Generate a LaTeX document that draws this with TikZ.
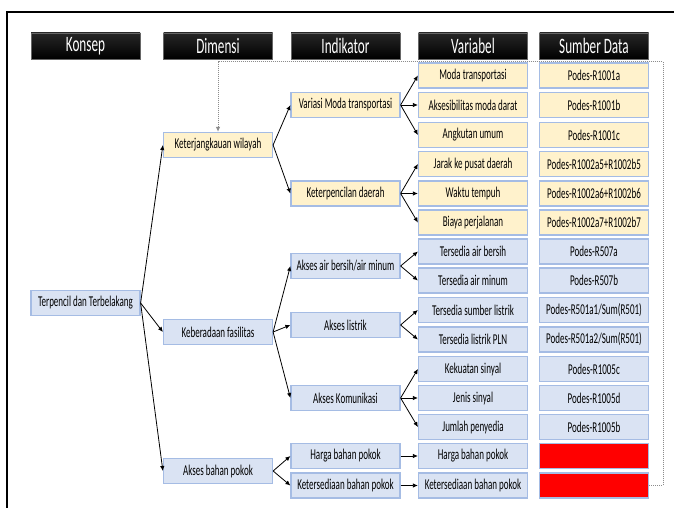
\documentclass[tikz,border=0pt]{standalone}
\usepackage{fontspec}
\setmainfont{Carlito}[FakeStretch=0.6]
\usetikzlibrary{arrows.meta}
\definecolor{ylw}{RGB}{255,242,204}
\definecolor{blu}{RGB}{218,227,243}
\definecolor{edg}{RGB}{165,188,228}
\tikzset{
  hdr/.style={top color=black!85, bottom color=black, draw=black!60, line width=0.8pt, minimum width=109, minimum height=26, inner sep=0pt, text=white, font=\fontsize{22}{23}\selectfont},
  cell/.style={draw=edg, line width=1.2pt, minimum width=109, minimum height=25, inner sep=0pt, font=\fontsize{15}{16}\selectfont},
  ybox/.style={cell, fill=ylw},
  bbox/.style={cell, fill=blu},
  rbox/.style={cell, fill=red},
  arr/.style={-{Latex[length=5pt,width=4.5pt]}, line width=0.8pt, black},
  dotline/.style={densely dotted, black!45, line width=1pt}
}
\begin{document}
\begin{tikzpicture}[x=1pt,y=-1pt]
\useasboundingbox (0,0) rectangle (674,508);
\draw[line width=2pt] (6.5,508) -- (6.5,12.5) -- (674,12.5);
% headers
\node[hdr] (h1) at (85.5,46) {Konsep};
\node[hdr] (h2) at (218,46) {Dimensi};
\node[hdr] (h3) at (345.5,46) {Indikator};
\node[hdr] (h4) at (473,46) {Variabel};
\node[hdr] (h5) at (594,46) {Sumber Data};
% konsep
\node[bbox] (k) at (85.5,303) {Terpencil dan Terbelakang};
% dimensi
\node[ybox] (d1) at (218,145) {Keterjangkauan wilayah};
\node[bbox] (d2) at (218,332) {Keberadaan fasilitas};
\node[bbox] (d3) at (218,471) {Akses bahan pokok};
% indikator
\node[ybox] (i1) at (345.5,105) {Variasi Moda transportasi};
\node[ybox] (i2) at (345.5,193.5) {Keterpencilan daerah};
\node[bbox] (i3) at (345.5,266) {Akses air bersih/air minum};
\node[bbox] (i4) at (345.5,325) {Akses listrik};
\node[bbox] (i5) at (345.5,398) {Akses Komunikasi};
\node[bbox] (i6) at (345.5,456) {Harga bahan pokok};
\node[bbox] (i7) at (345.5,485.5) {Ketersediaan bahan pokok};
% variabel
\node[ybox] (v1) at (473,75.5) {Moda transportasi};
\node[ybox] (v2) at (473,105) {Aksesibilitas moda darat};
\node[ybox] (v3) at (473,135) {Angkutan umum};
\node[ybox] (v4) at (473,164) {Jarak ke pusat daerah};
\node[ybox] (v5) at (473,193.5) {Waktu tempuh};
\node[ybox] (v6) at (473,222.5) {Biaya perjalanan};
\node[bbox] (v7) at (473,251.5) {Tersedia air bersih};
\node[bbox] (v8) at (473,280.5) {Tersedia air minum};
\node[bbox] (v9) at (473,310) {Tersedia sumber listrik};
\node[bbox] (v10) at (473,339.5) {Tersedia listrik PLN};
\node[bbox] (v11) at (473,369) {Kekuatan sinyal};
\node[bbox] (v12) at (473,398) {Jenis sinyal};
\node[bbox] (v13) at (473,427) {Jumlah penyedia};
\node[bbox] (v14) at (473,456) {Harga bahan pokok};
\node[bbox] (v15) at (473,485.5) {Ketersediaan bahan pokok};
% sumber
\node[ybox] (s1) at (594,75.5) {Podes-R1001a};
\node[ybox] (s2) at (594,105) {Podes-R1001b};
\node[ybox] (s3) at (594,135) {Podes-R1001c};
\node[ybox] (s4) at (594,164) {Podes-R1002a5+R1002b5};
\node[ybox] (s5) at (594,193.5) {Podes-R1002a6+R1002b6};
\node[ybox] (s6) at (594,222.5) {Podes-R1002a7+R1002b7};
\node[bbox] (s7) at (594,251.5) {Podes-R507a};
\node[bbox] (s8) at (594,280.5) {Podes-R507b};
\node[bbox] (s9) at (594,310) {Podes-R501a1/Sum(R501)};
\node[bbox] (s10) at (594,339.5) {Podes-R501a2/Sum(R501)};
\node[bbox] (s11) at (594,369) {Podes-R1005c};
\node[bbox] (s12) at (594,398) {Podes-R1005d};
\node[bbox] (s13) at (594,427) {Podes-R1005b};
\node[rbox] (s14) at (594,456) {};
\node[rbox] (s15) at (594,485.5) {};
% arrows konsep -> dimensi
\draw[arr] (k.east) -- (d1.west);
\draw[arr] (k.east) -- (d2.west);
\draw[arr] (k.east) -- (d3.west);
% dimensi -> indikator
\draw[arr] (d1.east) -- (i1.west);
\draw[arr] (d1.east) -- (i2.west);
\draw[arr] (d2.east) -- (i3.west);
\draw[arr] (d2.east) -- (i4.west);
\draw[arr] (d2.east) -- (i5.west);
\draw[arr] (d3.east) -- (i6.west);
\draw[arr] (d3.east) -- (i7.west);
% indikator -> variabel
\draw[arr] (i1.east) -- (v1.west);
\draw[arr] (i1.east) -- (v2.west);
\draw[arr] (i1.east) -- (v3.west);
\draw[arr] (i2.east) -- (v4.west);
\draw[arr] (i2.east) -- (v5.west);
\draw[arr] (i2.east) -- (v6.west);
\draw[arr] (i3.east) -- (v7.west);
\draw[arr] (i3.east) -- (v8.west);
\draw[arr] (i4.east) -- (v9.west);
\draw[arr] (i4.east) -- (v10.west);
\draw[arr] (i5.east) -- (v11.west);
\draw[arr] (i5.east) -- (v12.west);
\draw[arr] (i5.east) -- (v13.west);
\draw[arr] (i6.east) -- (v14.west);
\draw[arr] (i7.east) -- (v15.west);
% dotted feedback
\coordinate (dt) at (663,62);
\draw[dotline, -{Latex[length=5pt,width=4.5pt]}] (s15.east) -| (dt) -| (d1.north);
\end{tikzpicture}
\end{document}
